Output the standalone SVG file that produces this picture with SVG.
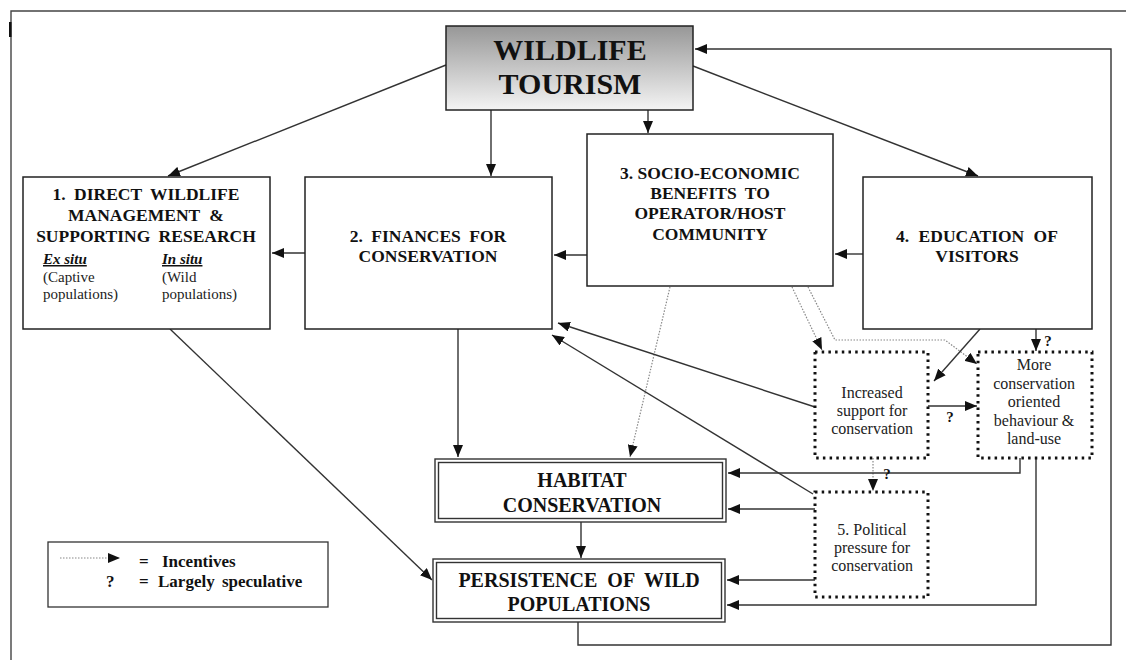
<svg xmlns="http://www.w3.org/2000/svg" width="1126" height="660" viewBox="0 0 1126 660">
<defs>
  <linearGradient id="tg" x1="0" y1="0" x2="0" y2="1">
    <stop offset="0" stop-color="#979797"/>
    <stop offset="1" stop-color="#f4f4f4"/>
  </linearGradient>
  <marker id="ah" markerUnits="userSpaceOnUse" markerWidth="12" markerHeight="10" refX="12" refY="5" orient="auto">
    <path d="M0,0 L12,5 L0,10 z" fill="#111"/>
  </marker>
</defs>
<style>
  .box{fill:#fff;stroke:#222;stroke-width:1.5}
  .dbox{fill:#fff;stroke:#111;stroke-width:3;stroke-dasharray:2.5 4.2}
  .ln{fill:none;stroke:#333;stroke-width:1.4}
  .inc{fill:none;stroke:#888;stroke-width:1.2;stroke-dasharray:1.5 1.5}
  .b{font-family:"Liberation Serif","Times New Roman",serif;font-weight:bold;fill:#111}
  .r{font-family:"Liberation Serif","Times New Roman",serif;fill:#222}
  .m{text-anchor:middle}
  .s{text-anchor:start}
</style>
<rect width="1126" height="660" fill="#fff"/>
<path d="M11,660 V11 H1126" fill="none" stroke="#444" stroke-width="1.4"/>
<rect x="9" y="22" width="2.5" height="15" fill="#111"/>

<g id="connectors">
  <line class="ln" x1="446" y1="65" x2="168" y2="176" marker-end="url(#ah)"/>
  <line class="ln" x1="491" y1="110" x2="491" y2="176" marker-end="url(#ah)"/>
  <line class="ln" x1="648" y1="110" x2="648" y2="133" marker-end="url(#ah)"/>
  <line class="ln" x1="693" y1="66" x2="978" y2="176" marker-end="url(#ah)"/>
  <line class="ln" x1="305" y1="253" x2="272" y2="253" marker-end="url(#ah)"/>
  <line class="ln" x1="587" y1="255" x2="554" y2="255" marker-end="url(#ah)"/>
  <line class="ln" x1="863" y1="254" x2="835" y2="254" marker-end="url(#ah)"/>
  <line class="ln" x1="170" y1="329" x2="432" y2="580" marker-end="url(#ah)"/>
  <line class="ln" x1="458" y1="329" x2="458" y2="457" marker-end="url(#ah)"/>
  <line class="ln" x1="581" y1="522" x2="581" y2="558" marker-end="url(#ah)"/>
  <line class="inc" x1="670" y1="287" x2="630" y2="457" marker-end="url(#ah)"/>
  <line class="inc" x1="792" y1="287" x2="822" y2="350" marker-end="url(#ah)"/>
  <polyline class="inc" points="808,287 835,340 945,340 977,364" marker-end="url(#ah)"/>
  <line class="ln" x1="815" y1="407" x2="558" y2="323" marker-end="url(#ah)"/>
  <line class="ln" x1="813" y1="494" x2="552" y2="335" marker-end="url(#ah)"/>
  <line class="ln" x1="980" y1="329" x2="934" y2="381" marker-end="url(#ah)"/>
  <line class="ln" x1="1036" y1="329" x2="1036" y2="351" marker-end="url(#ah)"/>
  <line class="ln" x1="928" y1="406" x2="977" y2="406" marker-end="url(#ah)"/>
  <line class="inc" x1="873" y1="458" x2="873" y2="491" marker-end="url(#ah)"/>
  <polyline class="ln" points="1020,458 1020,473 728,473" marker-end="url(#ah)"/>
  <line class="ln" x1="815" y1="509" x2="728" y2="509" marker-end="url(#ah)"/>
  <line class="ln" x1="815" y1="580" x2="727" y2="580" marker-end="url(#ah)"/>
  <polyline class="ln" points="1036,458 1036,605 727,605" marker-end="url(#ah)"/>
  <polyline class="ln" points="578,622 578,645 1111,645 1111,49 695,49" marker-end="url(#ah)"/>
  <text class="b m" x="950" y="422" font-size="15">?</text>
  <text class="b m" x="887" y="479" font-size="15">?</text>
  <text class="b m" x="1048" y="346" font-size="15">?</text>
</g>

<g id="tourism">
  <rect x="446" y="26" width="247" height="84" fill="url(#tg)" stroke="#222" stroke-width="1.5"/>
  <text class="b m" x="570" y="60" font-size="30">WILDLIFE</text>
  <text class="b m" x="570" y="94" font-size="30">TOURISM</text>
</g>

<g id="box1">
  <rect class="box" x="23" y="177" width="247" height="152"/>
  <text class="b m" x="146" y="200" font-size="17.5" word-spacing="4">1. DIRECT WILDLIFE</text>
  <text class="b m" x="146" y="221" font-size="17.5" word-spacing="5">MANAGEMENT &amp;</text>
  <text class="b m" x="146" y="242" font-size="17.5" word-spacing="4">SUPPORTING RESEARCH</text>
  <text class="b s" x="43" y="264" font-size="15" font-style="italic" text-decoration="underline">Ex situ</text>
  <text class="r s" x="43" y="282" font-size="15">(Captive</text>
  <text class="r s" x="43" y="299" font-size="15">populations)</text>
  <text class="b s" x="162" y="264" font-size="15" font-style="italic" text-decoration="underline">In situ</text>
  <text class="r s" x="162" y="282" font-size="15">(Wild</text>
  <text class="r s" x="162" y="299" font-size="15">populations)</text>
</g>

<g id="box2">
  <rect class="box" x="305" y="177" width="247" height="152"/>
  <text class="b m" x="428" y="242" font-size="17.5" word-spacing="4">2. FINANCES FOR</text>
  <text class="b m" x="428" y="262" font-size="17.5">CONSERVATION</text>
</g>

<g id="box3">
  <rect class="box" x="587" y="134" width="246" height="152"/>
  <text class="b m" x="710" y="179" font-size="17.5">3. SOCIO-ECONOMIC</text>
  <text class="b m" x="710" y="199" font-size="17.5" word-spacing="4">BENEFITS TO</text>
  <text class="b m" x="710" y="219" font-size="17.5">OPERATOR/HOST</text>
  <text class="b m" x="710" y="240" font-size="17.5">COMMUNITY</text>
</g>

<g id="box4">
  <rect class="box" x="863" y="177" width="229" height="152"/>
  <text class="b m" x="977" y="242" font-size="17.5" word-spacing="5">4. EDUCATION OF</text>
  <text class="b m" x="977" y="262" font-size="17.5">VISITORS</text>
</g>

<g id="habitat">
  <rect x="435" y="459" width="291" height="63" fill="#fff" stroke="#333" stroke-width="1.4"/>
  <rect x="438.5" y="462.5" width="284" height="56" fill="none" stroke="#333" stroke-width="1.4"/>
  <text class="b m" x="582" y="487" font-size="20">HABITAT</text>
  <text class="b m" x="582" y="512" font-size="20">CONSERVATION</text>
</g>

<g id="persistence">
  <rect x="433" y="559" width="292" height="63" fill="#fff" stroke="#333" stroke-width="1.4"/>
  <rect x="436.5" y="562.5" width="285" height="56" fill="none" stroke="#333" stroke-width="1.4"/>
  <text class="b m" x="579" y="587" font-size="20" word-spacing="5">PERSISTENCE OF WILD</text>
  <text class="b m" x="579" y="611" font-size="20">POPULATIONS</text>
</g>

<g id="support">
  <rect class="dbox" x="815" y="352" width="113" height="106"/>
  <text class="r m" x="872" y="398" font-size="16">Increased</text>
  <text class="r m" x="872" y="416" font-size="16">support for</text>
  <text class="r m" x="872" y="434" font-size="16">conservation</text>
</g>

<g id="behaviour">
  <rect class="dbox" x="978" y="352" width="114" height="106"/>
  <text class="r m" x="1034" y="370" font-size="16">More</text>
  <text class="r m" x="1034" y="389" font-size="16">conservation</text>
  <text class="r m" x="1034" y="407" font-size="16">oriented</text>
  <text class="r m" x="1034" y="426" font-size="16">behaviour &amp;</text>
  <text class="r m" x="1034" y="444" font-size="16">land-use</text>
</g>

<g id="political">
  <rect class="dbox" x="815" y="492" width="113" height="105"/>
  <text class="r m" x="872" y="535" font-size="16">5. Political</text>
  <text class="r m" x="872" y="553" font-size="16">pressure for</text>
  <text class="r m" x="872" y="571" font-size="16">conservation</text>
</g>

<g id="legend">
  <rect x="48" y="542" width="280" height="65" fill="#fff" stroke="#333" stroke-width="1.3"/>
  <line class="inc" x1="60" y1="558" x2="120" y2="558" marker-end="url(#ah)"/>
  <text class="b s" x="139" y="567" font-size="17">=</text>
  <text class="b s" x="162" y="567" font-size="17">Incentives</text>
  <text class="b s" x="106" y="587" font-size="17">?</text>
  <text class="b s" x="139" y="587" font-size="17">=</text>
  <text class="b s" x="158" y="587" font-size="17" word-spacing="3">Largely speculative</text>
</g>
</svg>
